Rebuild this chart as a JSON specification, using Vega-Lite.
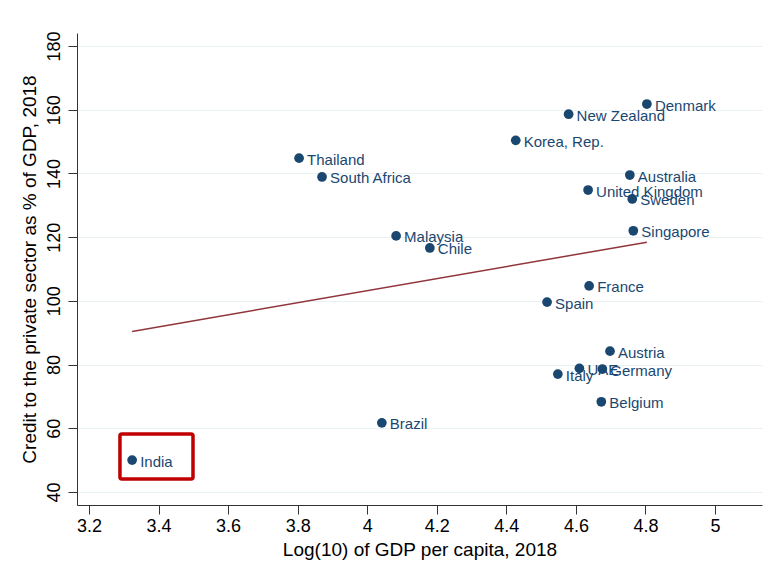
{
  "$schema": "https://vega.github.io/schema/vega-lite/v6.json",
  "width": 685,
  "height": 472,
  "autosize": {"type": "none"},
  "padding": {"left": 77, "top": 33, "right": 14, "bottom": 60},
  "background": "white",
  "config": {
    "view": {"stroke": null},
    "font": "Liberation Sans",
    "axis": {"labelFont": "Liberation Sans", "titleFont": "Liberation Sans"}
  },
  "datasets": {
    "countries": [
      {"country": "Denmark", "gdp": 4.804, "credit": 161.8},
      {"country": "New Zealand", "gdp": 4.579, "credit": 158.6},
      {"country": "Korea, Rep.", "gdp": 4.427, "credit": 150.4},
      {"country": "Thailand", "gdp": 3.804, "credit": 144.8},
      {"country": "South Africa", "gdp": 3.870, "credit": 138.9},
      {"country": "Australia", "gdp": 4.755, "credit": 139.5},
      {"country": "United Kingdom", "gdp": 4.635, "credit": 134.8},
      {"country": "Sweden", "gdp": 4.762, "credit": 132.0},
      {"country": "Singapore", "gdp": 4.765, "credit": 122.0},
      {"country": "Malaysia", "gdp": 4.083, "credit": 120.4},
      {"country": "Chile", "gdp": 4.180, "credit": 116.6},
      {"country": "France", "gdp": 4.638, "credit": 104.7},
      {"country": "Spain", "gdp": 4.517, "credit": 99.6},
      {"country": "Austria", "gdp": 4.698, "credit": 84.2},
      {"country": "UAE", "gdp": 4.610, "credit": 78.8},
      {"country": "Germany", "gdp": 4.676, "credit": 78.6},
      {"country": "Italy", "gdp": 4.548, "credit": 77.0},
      {"country": "Belgium", "gdp": 4.673, "credit": 68.3},
      {"country": "Brazil", "gdp": 4.042, "credit": 61.7},
      {"country": "India", "gdp": 3.324, "credit": 50.0}
    ],
    "box": [{"x1": 3.289, "x2": 3.499, "y1": 44.1, "y2": 58.2}]
  },
  "layer": [
    {
      "data": {"name": "countries"},
      "transform": [{"regression": "credit", "on": "gdp"}],
      "mark": {"type": "line", "color": "#90353b", "strokeWidth": 1.5},
      "encoding": {
        "x": {
          "field": "gdp", "type": "quantitative",
          "title": "Log(10) of GDP per capita, 2018",
          "scale": {"domain": [3.1655, 5.135], "nice": false, "zero": false},
          "axis": {
            "values": [3.2, 3.4, 3.6, 3.8, 4, 4.2, 4.4, 4.6, 4.8, 5],
            "format": "~g",
            "grid": false,
            "domainColor": "#333333",
            "tickColor": "#333333",
            "tickSize": 9,
            "labelFontSize": 18,
            "titleFontSize": 19,
            "labelColor": "#000000",
            "titleColor": "#000000",
            "titleFontWeight": "normal",
            "labelPadding": 3,
            "titlePadding": 5,
            "labelFlush": false
          }
        },
        "y": {
          "field": "credit", "type": "quantitative",
          "title": "Credit to the private sector as % of GDP, 2018",
          "scale": {"domain": [35.9, 184.1], "nice": false, "zero": false},
          "axis": {
            "values": [40, 60, 80, 100, 120, 140, 160, 180],
            "grid": true,
            "gridColor": "#e9f1f3",
            "gridWidth": 1.2,
            "domainColor": "#333333",
            "tickColor": "#333333",
            "tickSize": 9,
            "labelAngle": 270,
            "labelAlign": "center",
            "labelBaseline": "bottom",
            "labelFontSize": 18,
            "titleFontSize": 19,
            "labelColor": "#000000",
            "titleColor": "#000000",
            "titleFontWeight": "normal",
            "labelPadding": 5,
            "titlePadding": 6,
            "labelFlush": false
          }
        }
      }
    },
    {
      "data": {"name": "box"},
      "mark": {"type": "rect", "fillOpacity": 0, "fill": "white", "stroke": "#c00000", "strokeWidth": 3.5, "cornerRadius": 2},
      "encoding": {
        "x": {"field": "x1", "type": "quantitative", "title": "Log(10) of GDP per capita, 2018"},
        "x2": {"field": "x2"},
        "y": {"field": "y1", "type": "quantitative", "title": "Credit to the private sector as % of GDP, 2018"},
        "y2": {"field": "y2"}
      }
    },
    {
      "data": {"name": "countries"},
      "mark": {"type": "point", "filled": true, "size": 95, "color": "#1a476f", "opacity": 1},
      "encoding": {
        "x": {"field": "gdp", "type": "quantitative", "title": "Log(10) of GDP per capita, 2018"},
        "y": {"field": "credit", "type": "quantitative", "title": "Credit to the private sector as % of GDP, 2018"}
      }
    },
    {
      "data": {"name": "countries"},
      "mark": {"type": "text", "align": "left", "baseline": "middle", "dx": 8, "dy": 1.5, "fontSize": 15, "color": "#1a476f", "font": "Liberation Sans"},
      "encoding": {
        "x": {"field": "gdp", "type": "quantitative", "title": "Log(10) of GDP per capita, 2018"},
        "y": {"field": "credit", "type": "quantitative", "title": "Credit to the private sector as % of GDP, 2018"},
        "text": {"field": "country"}
      }
    }
  ]
}
